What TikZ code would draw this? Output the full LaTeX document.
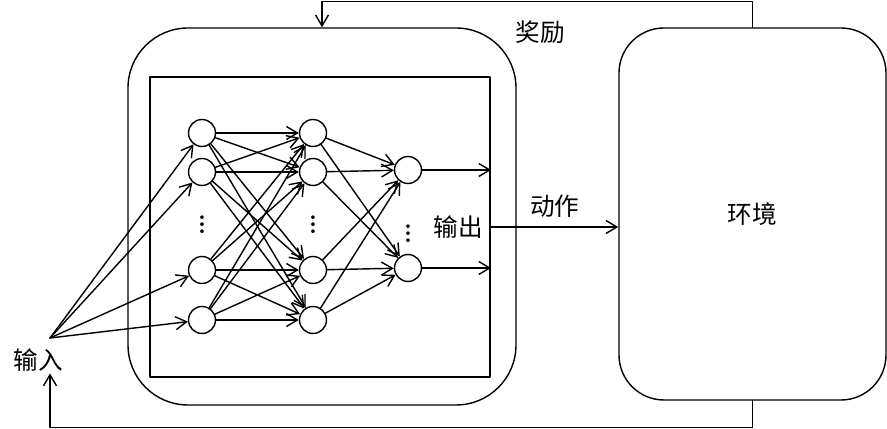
\documentclass[tikz,border=0pt]{standalone}
\usepackage{fontspec}
\newfontfamily\cjk{Noto Sans CJK SC}
\usetikzlibrary{arrows.meta}
\tikzset{
  every picture/.style={line join=round, line cap=round, >={Straight Barb[length=2.2mm,width=2.6mm]}},
  neuron/.style={circle, draw, line width=0.8pt, minimum size=5.4mm, inner sep=0pt},
  dots/.style={font=\bfseries\Large, inner sep=0pt},
  zh/.style={font=\cjk\fontsize{14}{16}\selectfont, inner sep=1pt},
  link/.style={->, line width=0.8pt},
}

\begin{document}
\begin{tikzpicture}
\useasboundingbox (0,0) rectangle (17.74,8.58);
% agent, network and environment
\node[draw,line width=0.8pt,rounded corners=12mm,minimum width=7.76cm,minimum height=7.54cm] (agent) at (6.44,4.25) {};
\node[draw,line width=1.3pt,minimum width=6.80cm,minimum height=6.00cm] (net) at (6.40,4.04) {};
\node[draw,line width=0.8pt,rounded corners=9mm,minimum width=5.34cm,minimum height=7.44cm,zh] (env) at (15.05,4.30) {环境};
% neurons
\node[neuron] (a1) at (4.04,5.92) {};
\node[neuron] (a2) at (4.04,5.14) {};
\node[neuron] (a3) at (4.04,3.18) {};
\node[neuron] (a4) at (4.04,2.18) {};
\node[neuron] (b1) at (6.26,5.92) {};
\node[neuron] (b2) at (6.26,5.14) {};
\node[neuron] (b3) at (6.26,3.18) {};
\node[neuron] (b4) at (6.26,2.18) {};
\node[neuron] (c1) at (8.16,5.18) {};
\node[neuron] (c2) at (8.16,3.22) {};
\node[dots] (adots) at (4.04,4.20) {\vdots};
\node[dots] (bdots) at (6.26,4.20) {\vdots};
\node[dots] (cdots) at (8.16,4.02) {\vdots};
% input
\coordinate (src) at (1.00,1.82);
\node[zh] (inlabel) at (0.76,1.38) {输入};
\node[zh] (outlabel) at (9.16,4.04) {输出};
\foreach \i in {1,...,4} \draw[link] (src) -- (a\i);
\foreach \i in {1,...,4} {
  \foreach \j in {1,...,4} \draw[link] (a\i) -- (b\j);
  \foreach \j in {1,2} \draw[link] (b\i) -- (c\j);
}
\foreach \j in {1,2} \draw[link] (c\j) -- (c\j -| net.east);
% action and feedback
\draw[link] (net.east) -- (net.east -| env.west) node[midway,above=4pt,zh] (act) {动作};
\draw[link] (env.north) -- ++(0,0.52) -| (agent.north);
\node[zh] (reward) at (10.80,7.94) {奖励};
\draw[link] (env.south) -- ++(0,-0.54) -| (inlabel.south -| src);
\end{tikzpicture}
\end{document}
